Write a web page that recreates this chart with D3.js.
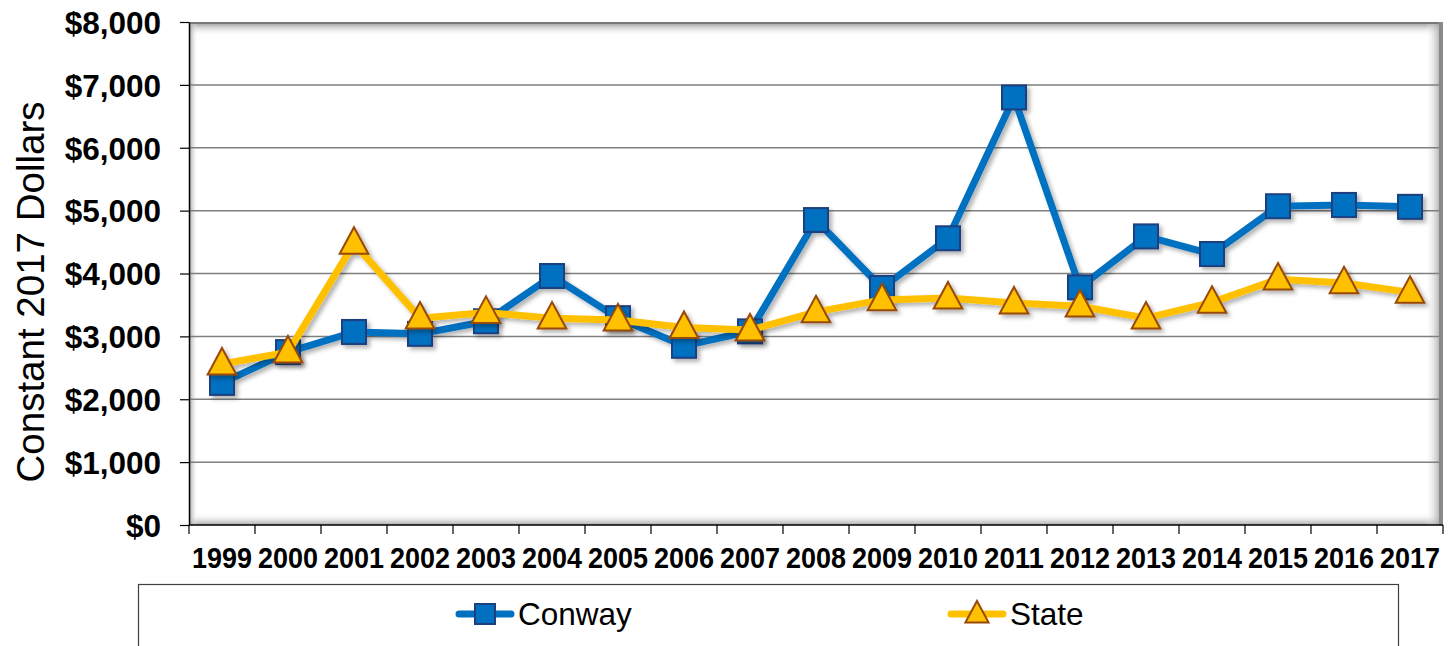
<!DOCTYPE html>
<html>
<head>
<meta charset="utf-8">
<script src="https://cdn.jsdelivr.net/npm/d3@7"></script>
<style>
  body { margin: 0; background: #fff; }
  svg { display: block; font-family: "Liberation Sans", Arial, sans-serif; }
</style>
</head>
<body>
<svg id="chart"></svg>
<script>
// data
const years = ["1999","2000","2001","2002","2003","2004","2005","2006","2007","2008",
               "2009","2010","2011","2012","2013","2014","2015","2016","2017"];
const conway = [2260, 2750, 3070, 3040, 3240, 3960, 3290, 2850, 3080, 4850,
                3770, 4560, 6800, 3780, 4590, 4310, 5070, 5090, 5060];
const state = [2560, 2750, 4480, 3290, 3380, 3290, 3260, 3140, 3100, 3390,
               3580, 3610, 3530, 3480, 3290, 3540, 3910, 3850, 3700];
const yTicks = [0, 1000, 2000, 3000, 4000, 5000, 6000, 7000, 8000];

const W = 1448, H = 646;
const margin = { top: 22, left: 189, right: 5, bottom: 121 };
const width = W - margin.left - margin.right;
const height = H - margin.top - margin.bottom;

const svg = d3.select("#chart").attr("width", W).attr("height", H);
const defs = svg.append("defs");

// drop shadow for the series
const shadow = defs.append("filter").attr("id", "shadow")
    .attr("x", "-20%").attr("y", "-20%").attr("width", "140%").attr("height", "140%");
shadow.append("feDropShadow")
    .attr("dx", 3).attr("dy", 3).attr("stdDeviation", 2)
    .attr("flood-color", "#000").attr("flood-opacity", 0.3);

// gradients for the bevelled plot area
function grad(id, x1, y1, x2, y2, c) {
    const g = defs.append("linearGradient").attr("id", id)
        .attr("x1", x1).attr("y1", y1).attr("x2", x2).attr("y2", y2);
    g.append("stop").attr("offset", "0%").attr("stop-color", c).attr("stop-opacity", 1);
    g.append("stop").attr("offset", "100%").attr("stop-color", "#fff").attr("stop-opacity", 0);
}
grad("gTop", 0, 0, 0, 1, "#8c8c8c");
grad("gBottom", 0, 1, 0, 0, "#a6a6a6");
grad("gLeft", 0, 0, 1, 0, "#9a9a9a");
grad("gRight", 1, 0, 0, 0, "#8c8c8c");

const chart = svg.append("g").attr("transform", `translate(${margin.left},${margin.top})`);

const x = d3.scaleBand().domain(years).range([0, width]);
const y = d3.scaleLinear().domain([0, 8000]).range([height, 0]);

// plot background
chart.append("rect").attr("width", width).attr("height", height).attr("fill", "#fff");
chart.append("rect").attr("width", width).attr("height", 14).attr("fill", "url(#gTop)");
chart.append("rect").attr("y", height - 12).attr("width", width).attr("height", 12).attr("fill", "url(#gBottom)");
chart.append("rect").attr("width", 9).attr("height", height).attr("fill", "url(#gLeft)");
chart.append("rect").attr("x", width - 18).attr("width", 18).attr("height", height).attr("fill", "url(#gRight)");
chart.append("rect").attr("width", width).attr("height", 2).attr("fill", "#7a7a7a");
chart.append("rect").attr("x", width - 4).attr("width", 4).attr("height", height).attr("fill", "#8a8a8a");

// gridlines
chart.append("g").selectAll("line")
    .data(yTicks.filter(d => d > 0 && d < 8000))
    .join("line")
    .attr("x1", 0).attr("x2", width - 4)
    .attr("y1", d => y(d)).attr("y2", d => y(d))
    .attr("stroke", "#7f7f7f").attr("stroke-width", 1.5);

// y axis
const yAxis = chart.append("g")
    .call(d3.axisLeft(y).tickValues(yTicks).tickSize(9).tickSizeOuter(0)
        .tickFormat(d => "$" + d3.format(",")(d)));
yAxis.select(".domain").attr("stroke", "#000").attr("stroke-width", 1.5);
yAxis.selectAll(".tick line").attr("stroke", "#000").attr("stroke-width", 1.2);
yAxis.selectAll(".tick text")
    .attr("x", -28).attr("dy", "0.36em")
    .attr("font-size", 31.5).attr("font-weight", "bold").attr("fill", "#000")
    .attr("font-family", "Liberation Sans, Arial, sans-serif");

// x axis: ticks at band edges
const xAxisG = chart.append("g").attr("transform", `translate(0,${height})`);
xAxisG.append("line").attr("x1", 0).attr("x2", width).attr("stroke", "#000").attr("stroke-width", 1.5);
xAxisG.selectAll("line.tk")
    .data(years.concat(["end"]))
    .join("line").attr("class", "tk")
    .attr("x1", (d, i) => i * x.step()).attr("x2", (d, i) => i * x.step())
    .attr("y1", 0).attr("y2", 9)
    .attr("stroke", "#000").attr("stroke-width", 1.2);
xAxisG.selectAll("text")
    .data(years)
    .join("text")
    .attr("x", d => x(d) + x.bandwidth() / 2)
    .attr("y", 43)
    .attr("text-anchor", "middle")
    .attr("font-size", 29).attr("font-weight", "bold")
    .attr("textLength", 60).attr("lengthAdjust", "spacingAndGlyphs")
    .text(d => d);

// axis title
svg.append("text")
    .attr("transform", "translate(44,292) rotate(-90)")
    .attr("text-anchor", "middle")
    .attr("font-size", 38.5)
    .text("Constant 2017 Dollars");

// series
const series = [
    { name: "Conway", values: conway, color: "#0070C0", stroke: "#1F3F7F", shape: "square" },
    { name: "State", values: state, color: "#FFC000", stroke: "#984807", shape: "triangle" }
];

const line = d3.line()
    .x((d, i) => x(years[i]) + x.bandwidth() / 2)
    .y(d => y(d));

function marker(sel, s, size) {
    if (s.shape === "square") {
        sel.append("rect")
            .attr("x", -size / 2).attr("y", -size / 2)
            .attr("width", size).attr("height", size)
            .attr("fill", s.color).attr("stroke", s.stroke).attr("stroke-width", 2);
    } else {
        const w = size * 1.1, h = size;
        sel.append("path")
            .attr("d", `M0,${-h * 0.62} L${w / 2},${h * 0.4} L${-w / 2},${h * 0.4} Z`)
            .attr("fill", s.color).attr("stroke", s.stroke).attr("stroke-width", 2)
            .attr("stroke-linejoin", "miter");
    }
}

series.forEach(s => {
    const g = chart.append("g").attr("filter", "url(#shadow)");
    g.append("path")
        .datum(s.values)
        .attr("d", line)
        .attr("fill", "none")
        .attr("stroke", s.color)
        .attr("stroke-width", 7)
        .attr("stroke-linejoin", "round");
    g.selectAll("g.pt")
        .data(s.values)
        .join("g").attr("class", "pt")
        .attr("transform", (d, i) => `translate(${x(years[i]) + x.bandwidth() / 2},${y(d)})`)
        .each(function () { marker(d3.select(this), s, s.shape === "square" ? 24 : 26); });
});

// legend
const legend = svg.append("g");
legend.append("rect")
    .attr("x", 138.5).attr("y", 584.5)
    .attr("width", 1260).attr("height", 90)
    .attr("fill", "#fff").attr("stroke", "#404040").attr("stroke-width", 1.2);

const legendX = [485, 977];
series.forEach((s, i) => {
    const g = legend.append("g").attr("transform", `translate(${legendX[i]},614)`);
    g.append("line").attr("x1", -26).attr("x2", 26)
        .attr("stroke", s.color).attr("stroke-width", 7).attr("stroke-linecap", "round");
    marker(g, s, s.shape === "square" ? 20 : 21);
    g.append("text").attr("x", 33).attr("y", 11)
        .attr("font-size", 31.5).text(s.name);
});
</script>
</body>
</html>
